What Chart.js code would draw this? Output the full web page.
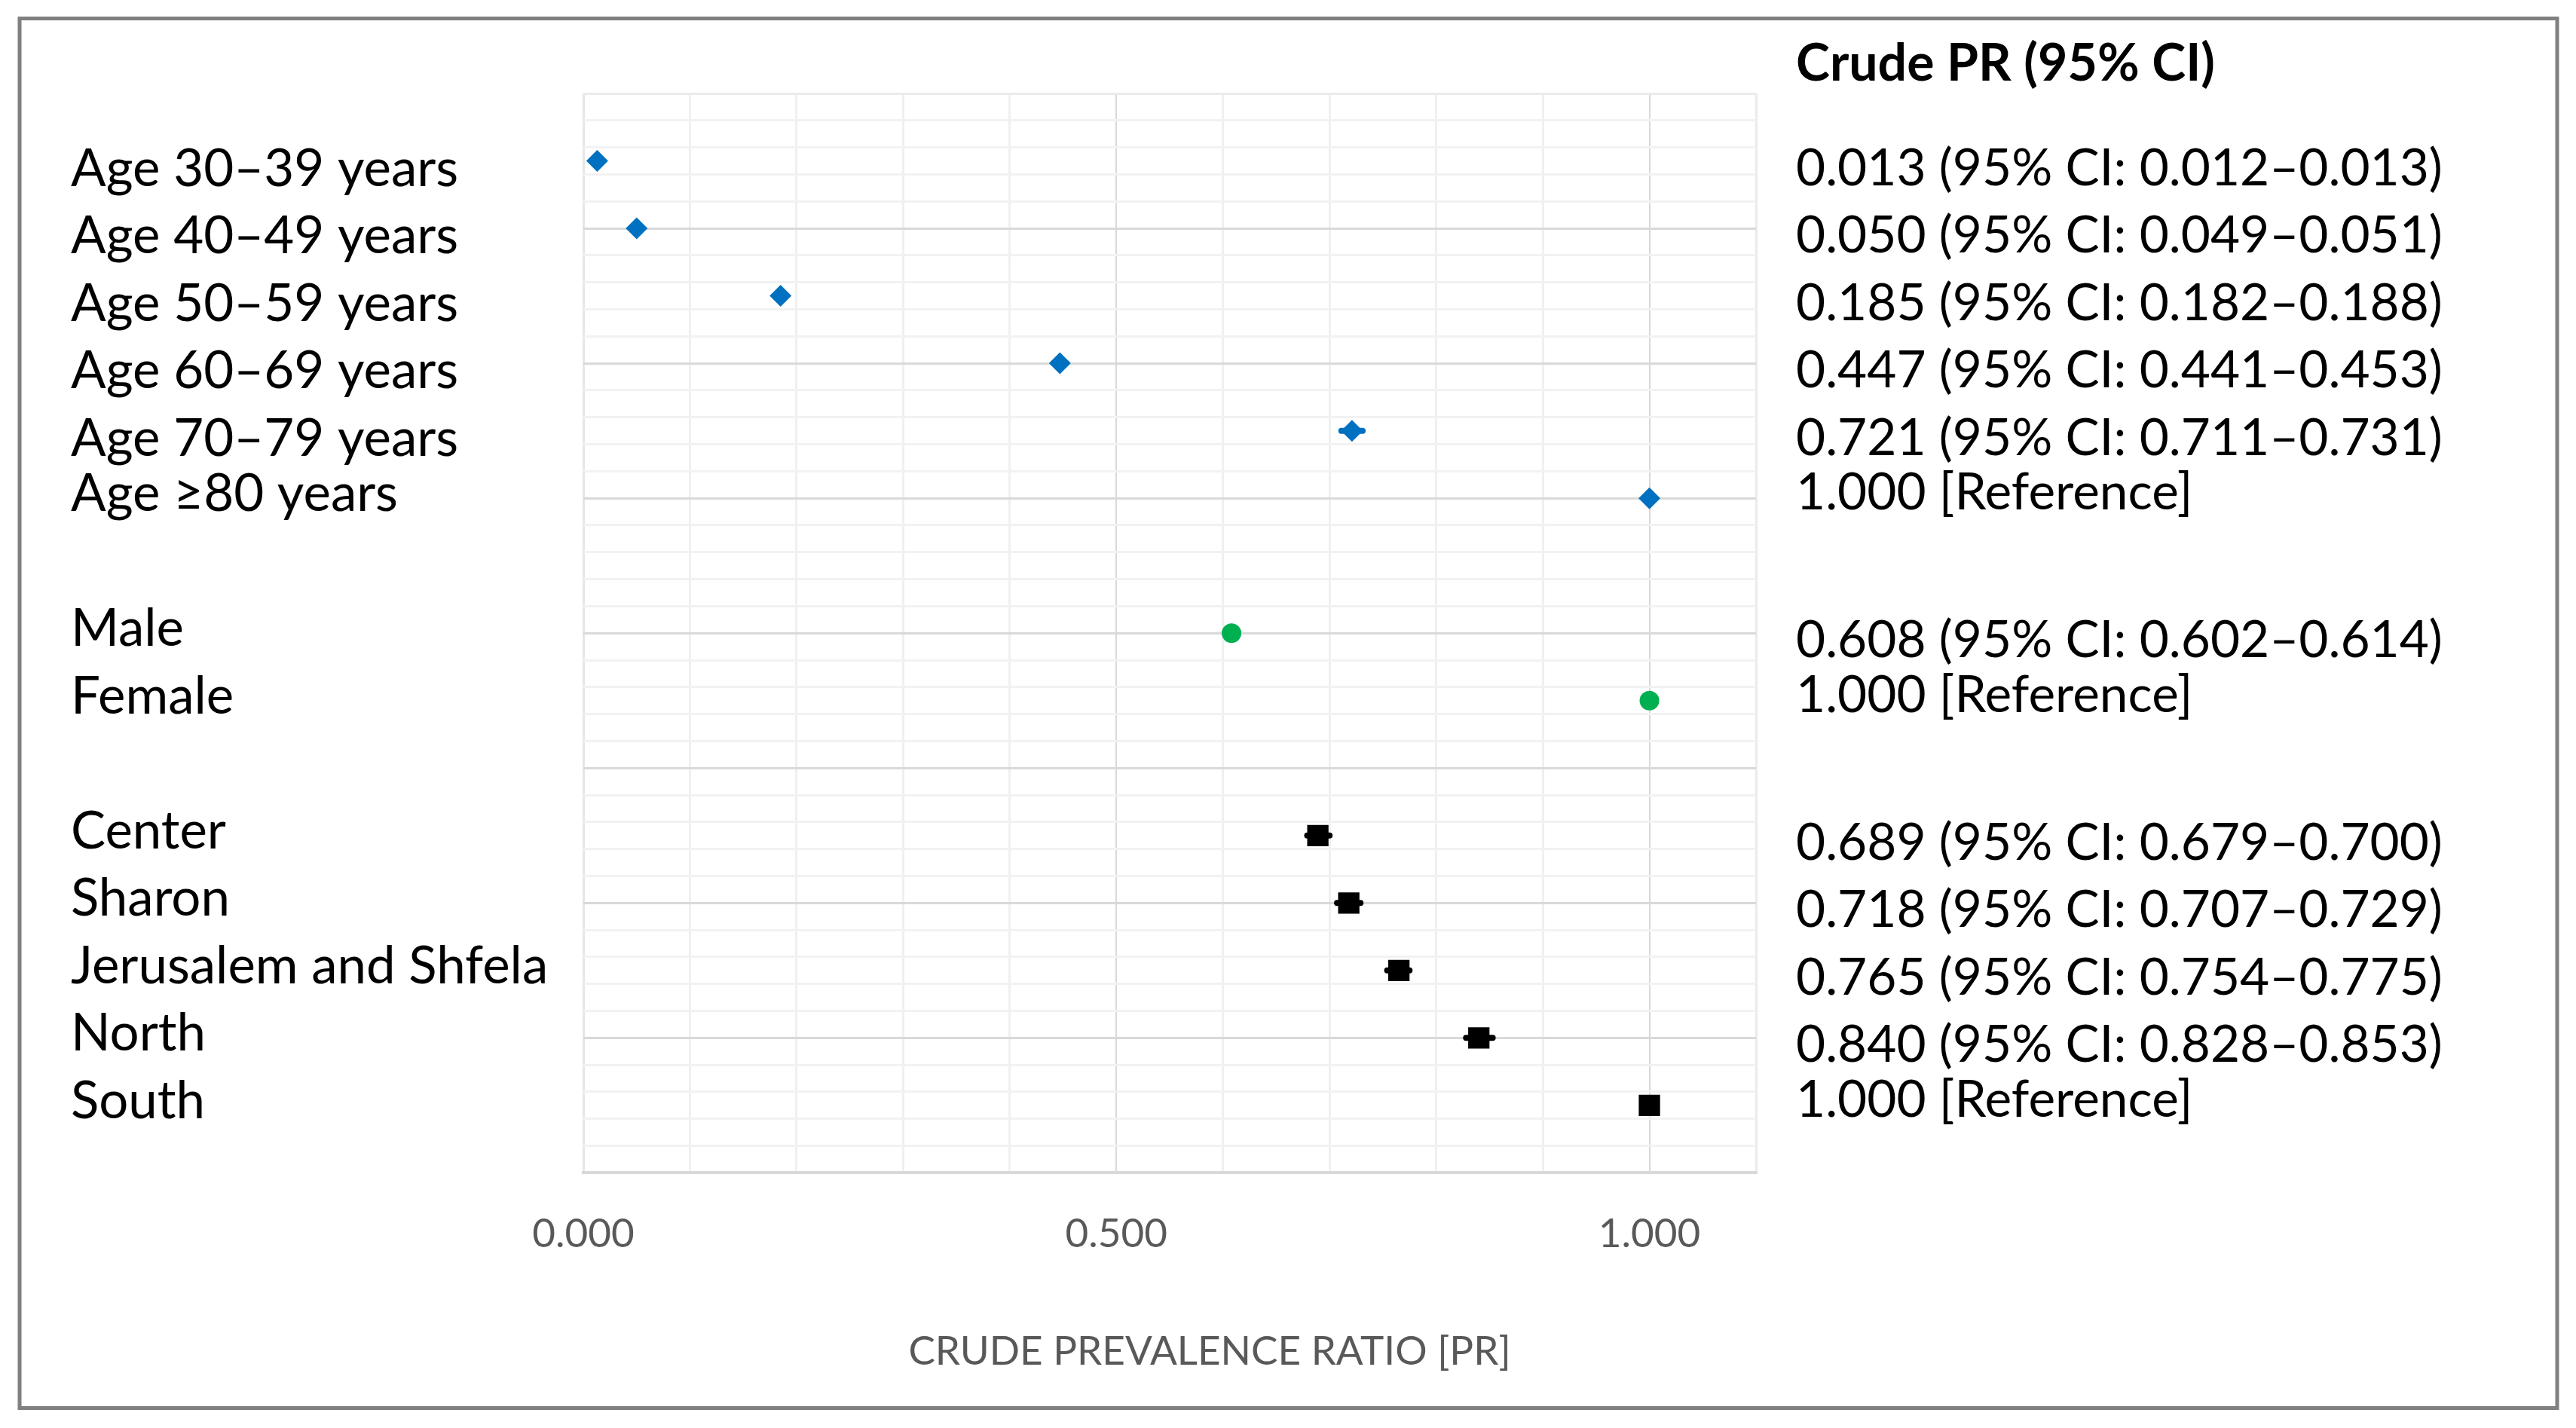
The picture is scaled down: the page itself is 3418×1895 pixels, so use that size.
<!DOCTYPE html>
<html><head><meta charset="utf-8">
<script src="https://cdn.jsdelivr.net/npm/chart.js@4.4.1/dist/chart.umd.min.js"></script>
<style>html,body{margin:0;padding:0;background:#fff;overflow:hidden}canvas{display:block}</style>
</head><body>
<canvas id="c" width="3418" height="1895"></canvas>
<script>
// ---- data ----
const ageGroups = ['Age 30–39 years','Age 40–49 years','Age 50–59 years','Age 60–69 years','Age 70–79 years','Age ≥80 years'];
const agePR   = [0.013, 0.050, 0.185, 0.447, 0.721, 1.000];
const ageLow  = [0.012, 0.049, 0.182, 0.441, 0.711, null];
const ageHigh = [0.013, 0.051, 0.188, 0.453, 0.731, null];

const sexGroups = ['Male','Female'];
const sexPR   = [0.608, 1.000];
const sexLow  = [0.602, null];
const sexHigh = [0.614, null];

const regionGroups = ['Center','Sharon','Jerusalem and Shfela','North','South'];
const regionPR   = [0.689, 0.718, 0.765, 0.840, 1.000];
const regionLow  = [0.679, 0.707, 0.754, 0.828, null];
const regionHigh = [0.700, 0.729, 0.775, 0.853, null];

const xTickValues = [0, 0.5, 1.0];
const xTickLabels = ['0.000', '0.500', '1.000'];
const tableHeader = 'Crude PR (95% CI)';
const xAxisTitle = 'CRUDE PREVALENCE RATIO [PR]';

// ---- build rows (one blank slot between groups) ----
const groups = [
  {key:'age',    names:ageGroups,    pr:agePR,    lo:ageLow,    hi:ageHigh,    color:'#0070C0', style:'rectRot', radius:14.5},
  {key:'sex',    names:sexGroups,    pr:sexPR,    lo:sexLow,    hi:sexHigh,    color:'#00B050', style:'circle',  radius:13},
  {key:'region', names:regionGroups, pr:regionPR, lo:regionLow, hi:regionHigh, color:'#000000', style:'rect',    radius:20}
];
const ROW_STEP = 2.5;
let slot = 0;
groups.forEach((g, gi) => {
  if (gi > 0) slot++;
  g.slots = g.names.map(() => ++slot);
});
const Y_MAX = (slot + 1) * ROW_STEP;
groups.forEach(g => { g.ys = g.slots.map(s => Y_MAX - s * ROW_STEP); });

const FONT = 'Lato, "Open Sans", sans-serif';

const datasets = groups.map(g => ({
  label: g.key,
  data: g.pr.map((v, i) => ({x: v, y: g.ys[i]})),
  backgroundColor: g.color,
  borderColor: g.color,
  borderWidth: 0,
  pointStyle: g.style,
  pointRadius: g.radius,
  pointHoverRadius: g.radius
}));

const fmt = v => v.toFixed(3);

const decorPlugin = {
  id: 'decor',
  beforeDraw(chart) {
    const ctx = chart.ctx;
    ctx.save();
    ctx.fillStyle = '#ffffff';
    ctx.fillRect(0, 0, chart.width, chart.height);
    ctx.strokeStyle = '#808080';
    ctx.lineWidth = 5;
    ctx.strokeRect(26, 24.5, chart.width - 51, chart.height - 51);
    ctx.restore();
  },
  beforeDatasetsDraw(chart) {
    const ctx = chart.ctx, xs = chart.scales.x, ys = chart.scales.y;
    ctx.save();
    ctx.lineCap = 'round';
    ctx.lineWidth = 8;
    groups.forEach(g => {
      g.pr.forEach((v, i) => {
        if (g.lo[i] == null) return;
        const y = ys.getPixelForValue(g.ys[i]);
        ctx.strokeStyle = g.color;
        ctx.beginPath();
        ctx.moveTo(xs.getPixelForValue(g.lo[i]), y);
        ctx.lineTo(xs.getPixelForValue(g.hi[i]), y);
        ctx.stroke();
      });
    });
    ctx.restore();
  },
  afterDraw(chart) {
    const ctx = chart.ctx, ys = chart.scales.y, area = chart.chartArea;
    const leftX = 94, rightX = area.right + 53;
    ctx.save();
    ctx.fillStyle = '#000000';
    ctx.textBaseline = 'alphabetic';
    ctx.textAlign = 'left';
    // header
    ctx.font = 'bold 68px ' + FONT;
    ctx.fillText(tableHeader, rightX, 107);
    groups.forEach(g => {
      g.names.forEach((name, i) => {
        const isRef = g.lo[i] == null;
        const y = ys.getPixelForValue(g.ys[i]);
        const leftOff = (g.key === 'age' && !isRef) ? 33 : 17;
        const rightOff = isRef ? 15 : 32;
        ctx.font = '69px ' + FONT;
        ctx.fillText(name, leftX, y + leftOff);
        const txt = isRef ? fmt(g.pr[i]) + ' [Reference]'
                          : fmt(g.pr[i]) + ' (95% CI: ' + fmt(g.lo[i]) + '–' + fmt(g.hi[i]) + ')';
        ctx.font = '67.5px ' + FONT;
        ctx.fillText(txt, rightX, y + rightOff);
      });
    });
    // x-axis title
    ctx.fillStyle = '#595959';
    ctx.font = '53px ' + FONT;
    ctx.textAlign = 'center';
    ctx.fillText(xAxisTitle, (area.left + area.right) / 2 + 53, area.bottom + 255);
    ctx.restore();
  }
};

new Chart(document.getElementById('c'), {
  type: 'scatter',
  data: { datasets },
  options: {
    responsive: false,
    devicePixelRatio: 1,
    animation: false,
    events: [],
    layout: { padding: { left: 774, right: 1088, top: 124, bottom: 175 } },
    plugins: { legend: { display: false }, tooltip: { enabled: false } },
    scales: {
      x: {
        type: 'linear', min: 0, max: 1.1,
        border: { display: true, color: '#d9d9d9', width: 4 },
        grid: {
          drawTicks: false,
          color: c => {
            const k = Math.round(c.tick.value * 10);
            if (k === 0) return '#e6e6e6';
            if (k % 5 === 0) return '#d9d9d9';
            if (k === 11) return '#ebebeb';
            return '#f0f0f0';
          },
          lineWidth: c => {
            const k = Math.round(c.tick.value * 10);
            return (k % 5 === 0 && k !== 0) ? 2 : 3;
          }
        },
        ticks: {
          stepSize: 0.1, autoSkip: false, maxRotation: 0, padding: 50,
          color: '#595959', font: { family: FONT, size: 53 },
          callback: v => {
            const idx = xTickValues.findIndex(t => Math.abs(t - v) < 1e-9);
            return idx >= 0 ? xTickLabels[idx] : '';
          }
        }
      },
      y: {
        type: 'linear', min: 0, max: Y_MAX,
        border: { display: false },
        grid: {
          drawTicks: false,
          color: c => {
            const v = Math.round(c.tick.value);
            if (v === Y_MAX) return '#ebebeb';
            return v % 5 === 0 ? '#d9d9d9' : '#f2f2f2';
          },
          lineWidth: 3
        },
        ticks: { display: false, stepSize: 1 }
      }
    }
  },
  plugins: [decorPlugin]
});
</script>
</body></html>
